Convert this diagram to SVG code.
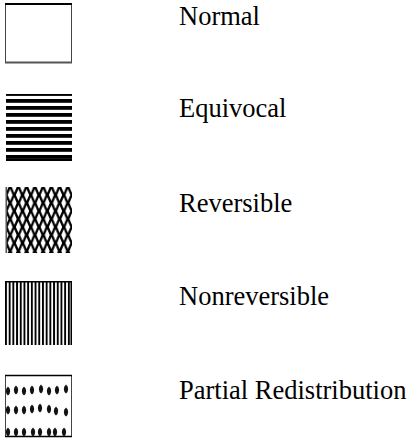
<svg xmlns="http://www.w3.org/2000/svg" width="412" height="444" viewBox="0 0 412 444">
<style>
.lbl{font-family:"Liberation Serif","Times New Roman",serif;font-size:26.5px;fill:#000}
.box{fill:#fff;stroke:#444;stroke-width:1}
</style>
<defs>
<pattern id="hstripe" patternUnits="userSpaceOnUse" x="0" y="99" width="8" height="7">
<rect x="0" y="0" width="8" height="3.8" fill="#000"/>
</pattern>
<pattern id="diamond" patternUnits="userSpaceOnUse" x="6" y="187" width="8.25" height="16">
<rect width="8.25" height="16" fill="#000"/>
<path d="M4.125 2 L6.6 8 L4.125 14 L1.65 8 Z" fill="#fff"/>
<path d="M0 -6 L2.475 0 L0 6 L-2.475 0 Z M8.25 -6 L10.725 0 L8.25 6 L5.775 0 Z M0 10 L2.475 16 L0 22 L-2.475 16 Z M8.25 10 L10.725 16 L8.25 22 L5.775 16 Z" fill="#fff"/>
</pattern>
<pattern id="vstripe" patternUnits="userSpaceOnUse" x="5" y="0" width="3.7" height="10">
<rect x="0" y="0" width="1.9" height="10" fill="#000"/>
</pattern>
<g id="blob">
<path d="M0 -4.5 L1.6 -2.5 L2.2 0 L1.5 3 L0 4.5 L-1.5 3 L-2.2 0 L-1.6 -2.5 Z" fill="#111"/>
</g>
</defs>

<g id="normal">
<rect class="box" x="5.5" y="3.5" width="66" height="59"/>
<line x1="5" y1="4" x2="72" y2="4" stroke="#000" stroke-width="2"/>
<line x1="5" y1="62.5" x2="72" y2="62.5" stroke="#555" stroke-width="2"/>
<text class="lbl" x="179" y="25">Normal</text>
</g>

<g id="equivocal">
<rect x="6" y="94" width="66" height="67" fill="#fff"/>
<rect x="6" y="94" width="66" height="67" fill="url(#hstripe)"/>
<rect x="6" y="94" width="66" height="1.5" fill="#000"/>
<rect x="6" y="158.5" width="66" height="2.5" fill="#000"/>
<text class="lbl" x="179" y="117">Equivocal</text>
</g>

<g id="reversible">
<rect x="6" y="187" width="66" height="66" fill="url(#diamond)"/>
<rect x="5.5" y="187" width="1.5" height="66" fill="#555"/>
<text class="lbl" x="179" y="212">Reversible</text>
</g>

<g id="nonreversible">
<rect x="5" y="281" width="66" height="64" fill="#fff"/>
<rect x="5" y="281" width="66" height="64" fill="url(#vstripe)"/>
<rect x="5" y="281" width="67" height="1.5" fill="#000"/>
<rect x="70.5" y="281" width="1.5" height="64" fill="#000"/>
<text class="lbl" x="179" y="305">Nonreversible</text>
</g>

<g id="partial">
<rect class="box" x="5.5" y="375.5" width="66" height="61"/>
<line x1="5" y1="375.5" x2="72" y2="375.5" stroke="#000" stroke-width="1.5"/>
<line x1="5" y1="436.5" x2="72" y2="436.5" stroke="#000" stroke-width="1.5"/>
<use href="#blob" x="8" y="391"/><use href="#blob" x="16" y="390"/><use href="#blob" x="24" y="391"/><use href="#blob" x="32" y="390"/><use href="#blob" x="41" y="389"/><use href="#blob" x="49" y="391"/><use href="#blob" x="57" y="390"/><use href="#blob" x="66" y="389"/>
<use href="#blob" x="8" y="410"/><use href="#blob" x="16" y="410"/><use href="#blob" x="24" y="410"/><use href="#blob" x="32" y="409"/><use href="#blob" x="40" y="408"/><use href="#blob" x="49" y="409"/><use href="#blob" x="56" y="411"/><use href="#blob" x="66" y="412"/>
<use href="#blob" x="8" y="432"/><use href="#blob" x="16" y="432"/><use href="#blob" x="24" y="432"/><use href="#blob" x="33" y="432"/><use href="#blob" x="40" y="432"/><use href="#blob" x="49" y="432"/><use href="#blob" x="55" y="432"/><use href="#blob" x="64" y="432"/>
<text class="lbl" x="179" y="399">Partial Redistribution</text>
</g>
</svg>
